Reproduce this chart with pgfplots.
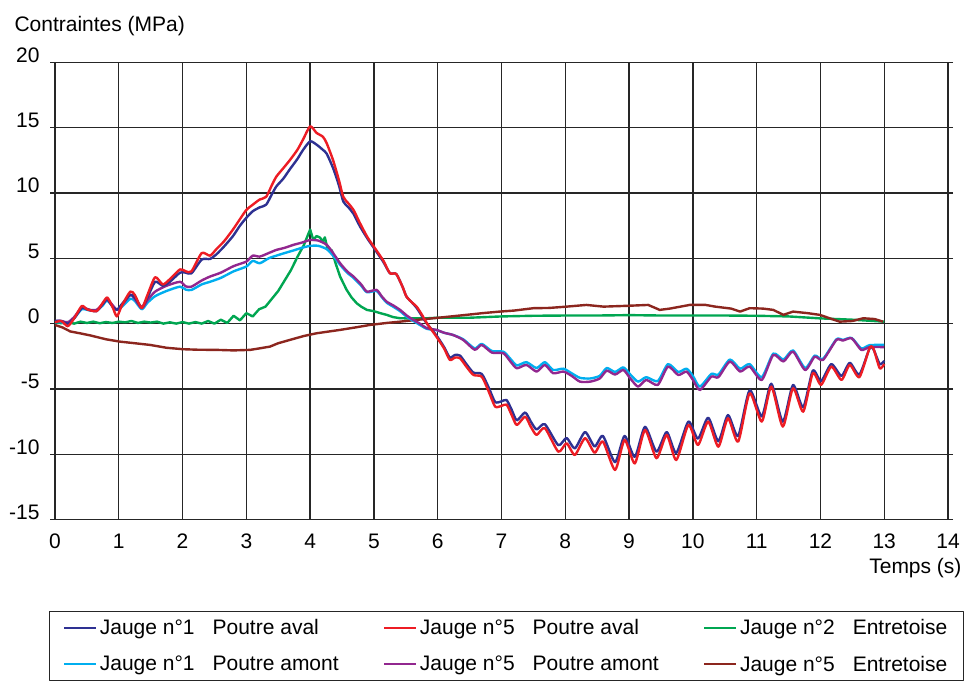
\documentclass[border=0pt]{standalone}
\usepackage{pgfplots}
\pgfplotsset{compat=1.18}
\usepackage{fontspec}
\setmainfont{Liberation Sans}
\definecolor{cBlue}{RGB}{46,49,146}
\definecolor{cRed}{RGB}{237,28,36}
\definecolor{cGreen}{RGB}{0,166,81}
\definecolor{cCyan}{RGB}{0,174,239}
\definecolor{cPurple}{RGB}{146,39,143}
\definecolor{cBrown}{RGB}{140,38,30}
\newcommand{\ff}{\fontsize{21}{25}\selectfont}
\begin{document}
\begin{tikzpicture}
\path[use as bounding box] (-55pt,-162.4pt) rectangle (910pt,519.6pt);
\begin{axis}[
  at={(0pt,0pt)}, anchor=south west,
  scale only axis, width=893pt, height=457.3pt,
  xmin=0, xmax=14, ymin=-15, ymax=20,
  xtick={0,1,...,14}, xticklabels={0,1,2,3,4,5,6,7,8,9,10,11,12,13,14},
  ytick={-15,-10,-5,0,5,10,15,20}, yticklabels={-15,-10,-5,0,5,10,15,20},
  grid=major, grid style={black!85, line width=1.3pt},
  axis line style={black!85, line width=1.3pt},
  tick align=outside, major tick length=5pt,
  ytick style={black!85, line width=1.3pt},
  xtick style={draw=none},
  tick label style={font=\ff},
  yticklabel style={anchor=base east, xshift=-7pt},
  xticklabel style={yshift=-6pt},
  xlabel={Temps (s)},
  xlabel style={font=\ff, at={(axis description cs:1,0)}, anchor=base east, xshift=17pt, yshift=-54pt},
  ylabel={Contraintes (MPa)},
  ylabel style={font=\ff, rotate=-90, at={(axis description cs:0,1)}, anchor=base west, xshift=-44pt, yshift=31pt},
  legend columns=3,
  legend cell align=left,
  legend image code/.code={\draw[#1, line width=2.2pt] (0pt,0pt) -- (32pt,0pt);},
  legend style={font=\ff, at={(axis description cs:0,0)}, anchor=north west, xshift=-6pt, yshift=-91.5pt,
     draw=black!85, line width=1.3pt, inner xsep=13.5pt, inner ysep=5pt,
     nodes={inner sep=2.5pt},
     /tikz/every even column/.append style={column sep=42pt},
     row sep=15pt},
  line join=round,
]
\addlegendimage{cBlue}\addlegendentry{Jauge n°1\hspace{18pt}Poutre aval}
\addlegendimage{cRed}\addlegendentry{Jauge n°5\hspace{18pt}Poutre aval}
\addlegendimage{cGreen}\addlegendentry{Jauge n°2\hspace{18pt}Entretoise}
\addlegendimage{cCyan}\addlegendentry{Jauge n°1\hspace{18pt}Poutre amont}
\addlegendimage{cPurple}\addlegendentry{Jauge n°5\hspace{18pt}Poutre amont}
\addlegendimage{cBrown}\addlegendentry{Jauge n°5\hspace{18pt}Entretoise}

% Jauge 2 Entretoise (green)
\addplot[cGreen, line width=2.4pt, forget plot] table {
0.0 0.1
0.1 0.03
0.2 0.12
0.3 0.0
0.4 0.15
0.5 0.05
0.6 0.15
0.7 0.03
0.8 0.12
0.9 0.05
1.0 0.15
1.1 0.1
1.2 0.2
1.3 0.05
1.4 0.15
1.5 0.08
1.6 0.15
1.7 0.0
1.8 0.1
1.9 0.0
2.0 0.12
2.1 0.0
2.2 0.12
2.3 0.0
2.4 0.2
2.5 0.0
2.6 0.3
2.7 0.05
2.8 0.6
2.9 0.25
3.0 0.8
3.1 0.55
3.2 1.1
3.3 1.3
3.4 1.9
3.5 2.5
3.6 3.3
3.7 4.1
3.8 5.1
3.9 6.0
4.0 7.2
4.05 6.4
4.1 6.7
4.15 6.6
4.2 6.3
4.23 6.6
4.27 5.8
4.34 5.6
4.4 4.6
4.47 3.6
4.57 2.6
4.65 2.0
4.73 1.56
4.8 1.3
4.89 1.05
5.0 0.95
5.1 0.8
5.2 0.67
5.3 0.5
5.41 0.41
5.6 0.4
5.8 0.4
6.0 0.45
6.5 0.45
7.0 0.55
7.5 0.6
8.0 0.62
8.5 0.62
9.0 0.65
9.5 0.62
10.0 0.62
10.5 0.62
11.0 0.6
11.5 0.55
12.0 0.4
12.5 0.3
13.0 0.15
};
% Jauge 5 Entretoise (brown)
\addplot[cBrown, line width=2.4pt, forget plot] table {
0.0 -0.1
0.12 -0.3
0.24 -0.6
0.4 -0.75
0.55 -0.9
0.8 -1.2
1.02 -1.38
1.25 -1.5
1.49 -1.63
1.75 -1.85
2.01 -1.96
2.25 -2.0
2.53 -2.01
2.8 -2.05
3.06 -2.01
3.2 -1.9
3.37 -1.76
3.5 -1.5
3.68 -1.25
3.9 -0.95
4.1 -0.74
4.3 -0.6
4.47 -0.48
4.7 -0.3
4.94 -0.1
5.2 0.05
5.41 0.15
5.7 0.3
5.93 0.41
6.19 0.54
6.45 0.67
6.7 0.8
6.97 0.92
7.2 1.0
7.5 1.18
7.75 1.2
8.02 1.3
8.33 1.43
8.6 1.3
8.96 1.36
9.3 1.43
9.48 1.05
9.64 1.15
9.95 1.43
10.2 1.43
10.35 1.3
10.6 1.15
10.74 0.92
10.89 1.18
11.1 1.15
11.26 1.05
11.42 0.67
11.57 0.92
11.8 0.8
11.99 0.67
12.15 0.4
12.3 0.15
12.5 0.2
12.67 0.41
12.85 0.35
12.98 0.15
};
% Jauge 1 Poutre amont (cyan)
\addplot[cCyan, line width=2.4pt, forget plot, smooth, tension=0.4] table {
0.00 0.1
0.10 0.1
0.20 0.0
0.30 0.4
0.42 1.1
0.55 1.0
0.65 1.0
0.75 1.4
0.82 1.75
0.97 1.05
1.05 1.3
1.18 1.9
1.25 1.75
1.36 1.1
1.45 1.6
1.57 2.1
1.75 2.5
1.96 2.83
2.05 2.6
2.14 2.58
2.30 3.0
2.43 3.2
2.60 3.5
2.80 4.0
3.00 4.37
3.10 4.8
3.21 4.62
3.35 5.0
3.47 5.2
3.60 5.4
3.74 5.6
3.87 5.8
4.00 5.95
4.13 5.95
4.26 5.7
4.36 5.2
4.47 4.5
4.58 3.9
4.68 3.5
4.80 2.9
4.89 2.4
5.04 2.5
5.12 2.05
5.20 1.6
5.30 1.3
5.41 0.95
5.52 0.5
5.62 0.2
5.72 -0.1
5.83 -0.4
5.98 -0.5
6.10 -0.7
6.24 -0.87
6.40 -1.2
6.58 -1.9
6.69 -1.55
6.85 -2.1
7.03 -2.15
7.14 -2.7
7.24 -3.2
7.39 -2.95
7.55 -3.4
7.68 -2.95
7.81 -3.55
7.97 -3.45
8.10 -3.8
8.23 -4.15
8.39 -4.2
8.54 -4.0
8.65 -3.4
8.78 -3.7
8.91 -3.35
9.02 -3.9
9.14 -4.44
9.27 -4.1
9.45 -4.4
9.61 -3.1
9.77 -3.7
9.90 -3.45
10.00 -4.0
10.11 -4.82
10.29 -3.85
10.40 -3.9
10.58 -2.75
10.74 -3.45
10.89 -3.1
11.08 -4.1
11.26 -2.3
11.42 -2.75
11.57 -2.05
11.76 -3.4
11.91 -2.45
12.04 -2.7
12.25 -1.2
12.35 -1.25
12.49 -1.1
12.64 -1.9
12.77 -1.65
13.00 -1.63
};
% Jauge 5 Poutre amont (purple)
\addplot[cPurple, line width=2.4pt, forget plot, smooth, tension=0.4] table {
0.00 0.2
0.10 0.2
0.20 0.1
0.30 0.5
0.42 1.2
0.55 1.05
0.65 1.05
0.75 1.5
0.82 1.87
0.97 1.05
1.05 1.4
1.18 2.2
1.25 1.9
1.36 1.18
1.45 1.8
1.57 2.45
1.75 2.9
1.96 3.2
2.05 2.85
2.14 2.83
2.30 3.3
2.43 3.6
2.60 3.9
2.80 4.4
3.00 4.75
3.10 5.2
3.21 5.13
3.35 5.4
3.47 5.64
3.60 5.8
3.74 6.03
3.87 6.2
4.00 6.4
4.13 6.35
4.26 6.03
4.36 5.4
4.47 4.62
4.58 4.0
4.68 3.6
4.80 3.0
4.89 2.45
5.04 2.58
5.12 2.1
5.20 1.68
5.30 1.4
5.41 1.05
5.52 0.6
5.62 0.28
5.72 0.0
5.83 -0.35
5.98 -0.48
6.10 -0.7
6.24 -0.87
6.40 -1.25
6.58 -2.0
6.69 -1.63
6.85 -2.22
7.03 -2.27
7.14 -2.9
7.24 -3.42
7.39 -3.16
7.55 -3.67
7.68 -3.16
7.81 -3.8
7.97 -3.67
8.10 -4.0
8.23 -4.44
8.39 -4.44
8.54 -4.2
8.65 -3.6
8.78 -3.9
8.91 -3.55
9.02 -4.2
9.14 -4.82
9.27 -4.31
9.45 -4.69
9.61 -3.29
9.77 -3.93
9.90 -3.67
10.00 -4.3
10.11 -5.08
10.29 -4.06
10.40 -4.1
10.58 -2.9
10.74 -3.67
10.89 -3.29
11.08 -4.31
11.26 -2.4
11.42 -2.9
11.57 -2.14
11.76 -3.55
11.91 -2.53
12.04 -2.78
12.25 -1.25
12.35 -1.3
12.49 -1.12
12.64 -2.01
12.77 -1.8
13.00 -1.8
};
% Jauge 1 Poutre aval (dark blue)
\addplot[cBlue, line width=2.4pt, forget plot, smooth, tension=0.4] table {
0.00 0.2
0.10 0.2
0.20 0.0
0.30 0.4
0.42 1.2
0.50 1.1
0.65 0.95
0.75 1.5
0.82 1.85
0.90 1.3
0.97 1.05
1.05 1.5
1.18 2.2
1.25 2.0
1.36 1.25
1.45 2.0
1.57 3.2
1.69 2.9
1.80 3.2
1.96 3.9
2.05 3.9
2.14 3.85
2.30 4.9
2.43 4.95
2.53 5.3
2.65 5.9
2.79 6.7
2.90 7.5
3.00 8.1
3.10 8.6
3.21 8.9
3.31 9.1
3.40 9.9
3.47 10.5
3.58 11.1
3.68 11.8
3.80 12.6
3.89 13.3
4.00 13.95
4.10 13.7
4.20 13.3
4.26 13.0
4.36 11.9
4.45 10.6
4.52 9.34
4.60 8.9
4.68 8.4
4.78 7.45
4.90 6.5
5.04 5.5
5.15 4.7
5.25 3.86
5.35 3.8
5.45 2.8
5.51 2.07
5.60 1.6
5.67 1.2
5.75 0.6
5.83 0.0
5.98 -0.9
6.10 -1.8
6.19 -2.6
6.27 -2.4
6.35 -2.45
6.45 -3.1
6.56 -3.75
6.69 -3.85
6.80 -4.9
6.90 -6.0
7.00 -5.95
7.08 -5.85
7.16 -6.6
7.24 -7.4
7.37 -6.8
7.46 -7.5
7.55 -8.1
7.68 -7.7
7.89 -9.3
8.02 -8.75
8.15 -9.55
8.31 -8.3
8.46 -9.4
8.59 -8.6
8.78 -10.6
8.93 -8.6
9.09 -10.2
9.25 -7.9
9.43 -9.8
9.59 -8.3
9.74 -9.9
9.93 -7.5
10.08 -8.8
10.24 -7.2
10.40 -9.0
10.55 -7.0
10.71 -8.6
10.89 -5.1
11.08 -7.1
11.23 -4.6
11.41 -7.5
11.57 -4.7
11.73 -6.4
11.88 -3.6
12.01 -4.4
12.17 -3.1
12.33 -4.0
12.46 -3.0
12.61 -3.9
12.77 -1.9
12.83 -1.95
12.93 -3.1
13.00 -2.85
};
% Jauge 5 Poutre aval (red)
\addplot[cRed, line width=2.4pt, forget plot, smooth, tension=0.4] table {
0.00 0.1
0.10 0.2
0.20 -0.2
0.30 0.4
0.42 1.35
0.50 1.1
0.65 0.95
0.75 1.6
0.82 2.0
0.90 1.3
0.97 0.55
1.05 1.4
1.18 2.45
1.25 2.2
1.36 1.2
1.45 2.2
1.57 3.55
1.69 3.0
1.80 3.4
1.96 4.15
2.05 4.0
2.14 4.0
2.30 5.4
2.43 5.2
2.53 5.7
2.65 6.3
2.79 7.2
2.90 8.0
3.00 8.7
3.10 9.1
3.21 9.5
3.31 9.7
3.40 10.6
3.47 11.25
3.58 11.9
3.68 12.5
3.80 13.3
3.89 14.1
4.00 15.1
4.10 14.6
4.20 14.3
4.26 13.8
4.36 12.5
4.45 11.0
4.52 9.7
4.60 9.2
4.68 8.7
4.78 7.7
4.90 6.6
5.04 5.6
5.15 4.8
5.25 3.86
5.35 3.8
5.45 2.8
5.51 2.07
5.60 1.6
5.67 1.3
5.75 0.7
5.83 0.03
5.98 -1.0
6.10 -1.9
6.19 -2.78
6.27 -2.6
6.35 -2.65
6.45 -3.3
6.56 -3.93
6.69 -4.06
6.80 -5.2
6.90 -6.35
7.00 -6.3
7.08 -6.2
7.16 -7.0
7.24 -7.76
7.37 -7.12
7.46 -7.9
7.55 -8.52
7.68 -8.0
7.89 -9.8
8.02 -9.16
8.15 -10.05
8.31 -8.77
8.46 -9.88
8.59 -9.03
8.78 -11.2
8.93 -8.9
9.09 -10.7
9.25 -8.14
9.43 -10.3
9.59 -8.52
9.74 -10.44
9.93 -7.76
10.08 -9.29
10.24 -7.5
10.40 -9.42
10.55 -7.24
10.71 -9.03
10.89 -5.33
11.08 -7.5
11.23 -4.82
11.41 -7.88
11.57 -4.95
11.73 -6.74
11.88 -3.8
12.01 -4.69
12.17 -3.29
12.33 -4.31
12.46 -3.16
12.61 -4.1
12.77 -1.88
12.83 -1.9
12.93 -3.42
13.00 -3.09
};
\end{axis}
\end{tikzpicture}
\end{document}
